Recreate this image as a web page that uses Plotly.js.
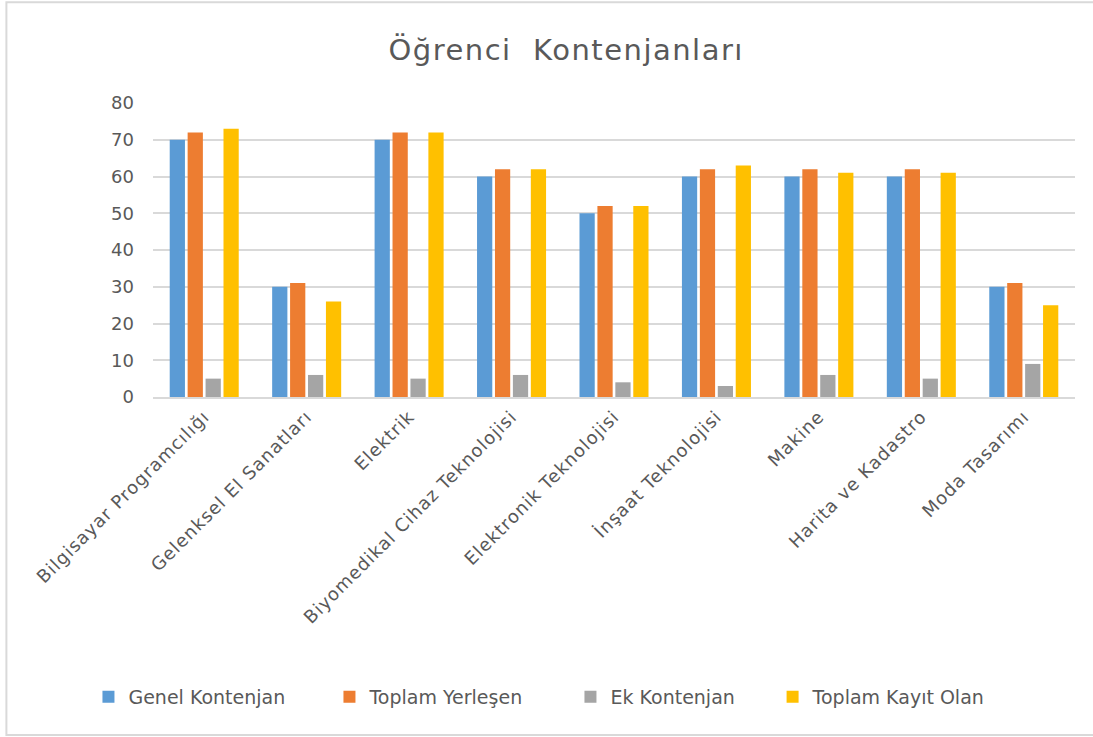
<!DOCTYPE html>
<html>
<head>
<meta charset="utf-8">
<script src="https://cdn.plot.ly/plotly-3.0.1.min.js"></script>
<style>
html,body{margin:0;padding:0;background:#fff;}
#chart{width:1093px;height:737px;}
#chart .gtitle{letter-spacing:1.5px;}
#chart .xtick text{letter-spacing:1px;}
</style>
</head>
<body>
<div id="chart"></div>
<script>
const categories = ["Bilgisayar Programcılığı","Gelenksel El Sanatları","Elektrik","Biyomedikal Cihaz Teknolojisi","Elektronik Teknolojisi","İnşaat Teknolojisi","Makine","Harita ve Kadastro","Moda Tasarımı"];
const genelKontenjan   = [70, 30, 70, 60, 50, 60, 60, 60, 30];
const toplamYerlesen   = [72, 31, 72, 62, 52, 62, 62, 62, 31];
const ekKontenjan      = [5, 6, 5, 6, 4, 3, 6, 5, 9];
const toplamKayitOlan  = [73, 26, 72, 62, 52, 63, 61, 61, 25];
const seriesNames = ["Genel Kontenjan","Toplam Yerleşen","Ek Kontenjan","Toplam Kayıt Olan"];
const seriesColors = ["#5b9bd5","#ed7d31","#a5a5a5","#ffc000"];
const yTicks = [0,10,20,30,40,50,60,70,80];

const FONT = "DejaVu Sans, sans-serif";
const seriesValues = [genelKontenjan, toplamYerlesen, ekKontenjan, toplamKayitOlan];
const traces = seriesValues.map((v,i)=>({
  type:'bar', x:categories, y:v, name:seriesNames[i],
  marker:{color:seriesColors[i]}, hoverinfo:'skip',
  legend: i === 3 ? 'legend2' : 'legend'
}));

const legendBase = {orientation:'h', xanchor:'left', y:-1.02, yanchor:'middle',
  font:{family:FONT, size:19, color:'#595959'}, itemwidth:30, traceorder:'normal',
  entrywidthmode:'pixels', entrywidth:196};

const layout = {
  width:1093, height:737,
  margin:{l:153, r:18, t:103, b:340},
  paper_bgcolor:'#ffffff', plot_bgcolor:'#ffffff',
  font:{family:FONT, color:'#595959'},
  title:{text:'Öğrenci  Kontenjanları', font:{family:FONT, size:29, color:'#595959'},
         x:0.518, xref:'container', xanchor:'center', y:0.932, yref:'container', yanchor:'middle'},
  barmode:'group', bargap:0.3, bargroupgap:0.15,
  xaxis:{type:'category', tickangle:-45, tickfont:{family:FONT, size:18, color:'#595959'},
         showgrid:false, showline:true, linecolor:'#d9d9d9', linewidth:2, ticks:'', ticklen:0, automargin:false},
  yaxis:{range:[0,80], tickvals:yTicks, ticktext:yTicks.map(String),
         tickfont:{family:FONT, size:18, color:'#595959'},
         showgrid:true, gridcolor:'#d9d9d9', gridwidth:2, zeroline:false, showline:false,
         ticks:'', ticklabelstandoff:18, automargin:false},
  legend: Object.assign({}, legendBase, {x:-0.07}),
  legend2: Object.assign({}, legendBase, {x:0.672}),
  shapes:[{type:'rect', xref:'paper', yref:'paper', x0:-0.159, x1:1.03, y0:-1.15, y1:1.343,
           line:{color:'#d9d9d9', width:2}, fillcolor:'rgba(0,0,0,0)', layer:'below'}],
  showlegend:true
};
Plotly.newPlot('chart', traces, layout, {displayModeBar:false, staticPlot:true});
</script>
</body>
</html>
